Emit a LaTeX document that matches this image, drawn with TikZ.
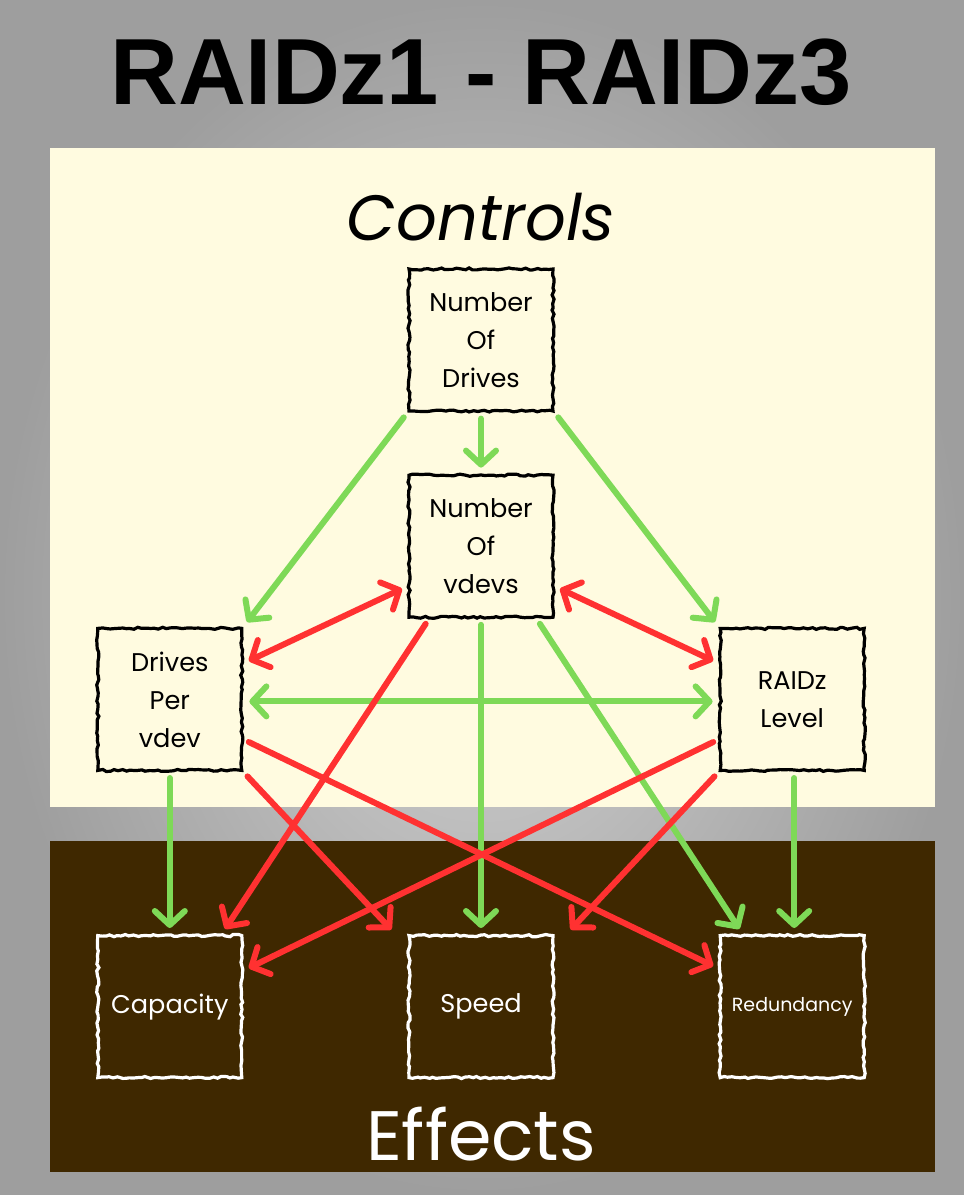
\documentclass[tikz,border=0pt]{standalone}
\usepackage{fontspec}
\setmainfont{Poppins}
\newfontfamily\titlefont{Liberation Sans}
\usetikzlibrary{positioning,arrows.meta,decorations.pathmorphing}
\definecolor{cream}{HTML}{FFFBE0}
\definecolor{earth}{HTML}{3F2800}
\definecolor{okgreen}{HTML}{7ED957}
\definecolor{badred}{HTML}{FF3131}
\definecolor{bglight}{HTML}{D2D2D2}
\definecolor{bgdark}{HTML}{9E9E9E}

\begin{document}
\pgfmathsetseed{11}
\begin{tikzpicture}[x=0.5pt, y=-0.5pt, node distance=30.5pt and 82pt,
  >={Straight Barb[length=7pt, width=15pt, line cap=round, line join=round]},
  box/.style={draw, line width=1.6pt, minimum width=72pt, minimum height=71pt,
    inner sep=0pt, align=center, font=\fontsize{12.8}{19}\selectfont,
    decorate, decoration={random steps, segment length=2pt, amplitude=0.55pt}},
  ctrl/.style={box, fill=cream},
  eff/.style={box, draw=white, text=white},
  good/.style={draw=okgreen, line width=3pt, line cap=round, shorten >=3pt, shorten <=3pt},
  bad/.style={draw=badred, line width=3pt, line cap=round, shorten >=3pt, shorten <=3pt}]
  \useasboundingbox (0,0) rectangle (964,1195);
  % Background and panels
  \shade[inner color=bglight, outer color=bgdark] (0,0) rectangle (964,1195);
  \fill[cream] (50,148) rectangle (935,807);
  \fill[earth] (50,841) rectangle (935,1172);
  \node (title) at (481,72) {\titlefont\bfseries\fontsize{47}{50}\selectfont RAIDz1 - RAIDz3};
  \node (controls) at (481,217) {\itshape\fontsize{32}{36}\selectfont Controls};
  \node[text=white] (effects) at (481,1134) {\fontsize{35}{40}\selectfont Effects};

  % Row 1: top control
  \node[ctrl] (drives) at (481,340) {Number\\Of\\Drives};
  % Row 2: vdev count
  \node[ctrl, below=of drives] (vdevs) {Number\\Of\\vdevs};
  % Row 3: width and parity
  \node[ctrl, below left=4pt and 82pt of vdevs] (perv) {Drives\\Per\\vdev};
  \node[ctrl, below right=4pt and 82pt of vdevs] (level) {RAIDz\\Level};
  % Row 4: effects
  \node[eff, below=81pt of perv] (capacity) {Capacity};
  \node[eff, right=of capacity] (speed) {Speed};
  \node[eff, right=of speed, font=\fontsize{9.5}{12}\selectfont] (redundancy) {Redundancy};

  % Connections
  \draw[good, ->] (drives) -- (vdevs);
  \draw[good, ->] (drives.south west) -- (perv.north east);
  \draw[good, ->] (drives.south east) -- (level.north west);
  \draw[good, <->] ([yshift=-1pt]perv.east) -- ([yshift=-1pt]level.west);
  \draw[good, ->] (perv.south) -- (capacity.north);
  \draw[good, ->] (vdevs.south) -- (speed.north);
  \draw[good, ->] ([xshift=-9pt]vdevs.south east) -- ([xshift=12pt]redundancy.north west);
  \draw[good, ->] ([xshift=1pt]level.south) -- ([xshift=1pt]redundancy.north);
  \draw[bad, <->] ([yshift=-20pt]vdevs.west) -- ([yshift=18pt]perv.east);
  \draw[bad, <->] ([yshift=-20pt]vdevs.east) -- ([yshift=18pt]level.west);
  \draw[bad, ->] ([xshift=-26pt]vdevs.south) -- ([xshift=26pt]capacity.north);
  \draw[bad, ->] (perv.south east) -- ([xshift=-6pt]speed.north west);
  \draw[bad, ->] ([yshift=-20pt]perv.east) -- ([yshift=19pt]redundancy.west);
  \draw[bad, ->] ([yshift=-20pt]level.west) -- ([yshift=18pt]capacity.east);
  \draw[bad, ->] (level.south west) -- ([xshift=6pt]speed.north east);
\end{tikzpicture}
\end{document}
